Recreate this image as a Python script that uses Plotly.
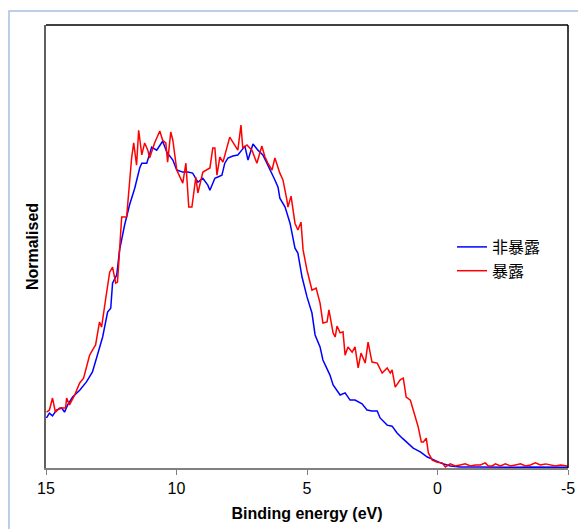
import plotly.graph_objects as go

# Binding energy (eV) and normalised intensity
blue_energy = [14.98, 14.87, 14.75, 14.60, 14.40, 14.29, 14.17, 13.98, 13.71, 13.45, 13.22, 13.02,
               12.83, 12.64, 12.52, 12.45, 12.29, 12.18, 11.99, 11.80, 11.60, 11.41, 11.33, 11.14,
               10.95, 10.76, 10.53, 10.37, 10.14, 9.99, 9.76, 9.57, 9.38, 9.18, 8.99, 8.80, 8.72,
               8.53, 8.26, 8.15, 8.03, 7.84, 7.65, 7.50, 7.38, 7.26, 7.07, 6.88, 6.69, 6.50, 6.34,
               6.23, 6.11, 6.04, 5.84, 5.65, 5.46, 5.35, 5.19, 5.00, 4.81, 4.69, 4.50, 4.39, 4.12,
               4.00, 3.73, 3.54, 3.35, 3.16, 2.89, 2.70, 2.51, 2.31, 2.20, 1.93, 1.74, 1.55, 1.35,
               1.16, 0.93, 0.66, 0.39, 0.20, -0.11, -0.49, -0.87, -1.5, -2.0, -2.5, -3.0, -3.5,
               -4.0, -4.5, -5.0]
blue_values = [14.6, 16.0, 15.2, 16.9, 17.5, 16.3, 18.4, 20.7, 22.7, 25.1, 28.0, 33.5,
               38.2, 45.5, 46.6, 53.9, 56.3, 63.6, 70.8, 76.7, 81.6, 87.5, 88.9, 88.9,
               93.6, 92.7, 95.3, 92.1, 89.8, 86.9, 86.3, 86.3, 86.0, 83.4, 84.5, 82.5, 81.0,
               84.5, 85.4, 88.9, 90.4, 91.0, 91.3, 92.7, 93.9, 89.8, 94.5, 92.7, 91.3, 88.3, 86.0,
               84.0, 81.9, 78.7, 76.1, 71.4, 64.1, 62.7, 55.7, 49.9, 45.2, 38.8, 35.3, 31.5, 27.1,
               24.2, 21.3, 21.9, 19.8, 19.8, 18.7, 16.9, 16.6, 16.6, 14.6, 12.5, 12.2, 10.2, 8.7,
               7.3, 5.8, 4.7, 3.2, 2.6, 1.5, 0.6, 0.3, 0.3, 0.2, 0.3, 0.2, 0.3,
               0.2, 0.3, 0.2]

red_energy = [14.98, 14.87, 14.75, 14.64, 14.48, 14.25, 14.21, 14.10, 13.90, 13.71, 13.56, 13.33,
              13.22, 13.10, 12.95, 12.87, 12.72, 12.56, 12.45, 12.33, 12.26, 12.18, 12.10, 11.91,
              11.72, 11.64, 11.53, 11.45, 11.33, 11.22, 11.10, 11.03, 10.84, 10.64, 10.53, 10.41,
              10.34, 10.22, 10.14, 9.99, 9.76, 9.64, 9.53, 9.41, 9.26, 9.18, 8.99, 8.72, 8.61,
              8.53, 8.45, 8.34, 8.22, 7.96, 7.84, 7.65, 7.53, 7.46, 7.30, 7.11, 6.92, 6.73, 6.61,
              6.50, 6.34, 6.23, 6.04, 5.92, 5.77, 5.73, 5.61, 5.46, 5.35, 5.23, 5.15, 5.00, 4.81,
              4.65, 4.50, 4.39, 4.23, 4.16, 4.00, 3.92, 3.85, 3.73, 3.62, 3.54, 3.43, 3.27, 3.16,
              3.04, 2.93, 2.77, 2.66, 2.51, 2.31, 2.12, 1.93, 1.81, 1.74, 1.62, 1.43, 1.31, 1.20,
              1.04, 0.93, 0.74, 0.62, 0.54, 0.43, 0.35, 0.20, 0.01, -0.18, -0.30, -0.49, -0.68,
              -0.87, -1.06, -1.26, -1.45, -1.64, -1.83, -1.95, -2.10, -2.22, -2.41, -2.60, -2.79,
              -2.99, -3.18, -3.37, -3.56, -3.75, -3.94, -4.14, -4.33, -4.52, -4.71, -4.98]
red_values = [16.3, 16.9, 20.4, 16.3, 17.5, 17.5, 20.4, 18.4, 21.3, 24.8, 26.2, 32.9,
              34.4, 35.9, 42.6, 41.1, 49.0, 57.1, 58.6, 53.9, 54.2, 63.6, 73.2, 73.2,
              90.4, 94.8, 88.3, 98.5, 91.3, 94.8, 92.7, 90.4, 94.8, 98.3, 95.6, 94.8,
              89.2, 98.0, 95.6, 86.9, 83.1, 88.9, 76.1, 76.1, 84.8, 80.2, 86.3, 87.5, 93.3,
              93.3, 85.4, 90.7, 89.2, 96.5, 95.0, 92.7, 100.0, 93.3, 94.2, 92.7, 88.9, 93.9, 90.7,
              88.9, 86.9, 90.4, 86.0, 84.0, 78.1, 76.1, 79.3, 71.4, 69.4, 71.7, 63.6, 57.7, 51.9,
              52.5, 48.1, 42.3, 42.6, 46.1, 39.4, 38.2, 41.4, 39.4, 39.7, 32.9, 35.3, 33.8, 35.3,
              29.2, 33.5, 30.6, 36.7, 30.9, 30.6, 27.7, 29.2, 27.7, 28.6, 23.6, 25.7, 26.2, 20.7,
              19.8, 16.9, 12.0, 7.6, 7.6, 8.7, 4.4, 2.3, 1.7, 1.5, 0.3, 1.2, 0.6,
              0.9, 1.2, 0.6, 0.9, 0.9, 1.5, 0.6, 0.6, 1.2, 0.6, 1.2, 0.6,
              0.9, 1.2, 0.6, 0.9, 1.5, 0.9, 1.2, 0.9, 0.6, 0.9, 0.6]

x_ticks = [15, 10, 5, 0, -5]
series_names = ["非暴露", "暴露"]

fig = go.Figure()
fig.add_trace(go.Scatter(x=blue_energy, y=blue_values, mode="lines", name=series_names[0],
                         line=dict(color="#0000ff", width=1.5)))
fig.add_trace(go.Scatter(x=red_energy, y=red_values, mode="lines", name=series_names[1],
                         line=dict(color="#ff0000", width=1.5)))

W, H = 578, 529
ml, mr, mt, mb = 46, 10, 25, 61
pw, ph = W - ml - mr, H - mt - mb

def px_x(p):
    return (p - ml) / pw

def px_y(p):
    return (H - mb - p) / ph

fig.update_layout(
    width=W, height=H,
    margin=dict(l=ml, r=mr, t=mt, b=mb, autoexpand=False),
    paper_bgcolor="white", plot_bgcolor="white",
    font=dict(family="Liberation Sans, Arial, sans-serif", color="black"),
    xaxis=dict(range=[15, -5], tickvals=x_ticks, ticktext=[str(v) for v in x_ticks],
               showgrid=False, zeroline=False, showline=True, linecolor="#808080", linewidth=1.5,
               ticks="outside", ticklen=5, tickcolor="#808080", tickwidth=1,
               tickfont=dict(size=16), automargin=False,
               title=dict(text="<b>Binding energy (eV)</b>", font=dict(size=16), standoff=12)),
    yaxis=dict(range=[0, 129.2], showticklabels=False, showgrid=False, zeroline=False,
               showline=True, linecolor="#606060", linewidth=1.5, ticks="", automargin=False,
               title=dict(text="<b>Normalised</b>", font=dict(size=16), standoff=2)),
    legend=dict(x=px_x(452), y=px_y(259), xanchor="left", yanchor="middle",
                font=dict(size=16, family="Noto Sans CJK SC"), bgcolor="rgba(0,0,0,0)",
                itemwidth=30, tracegroupgap=0),
    showlegend=True,
    shapes=[
        dict(type="line", xref="paper", yref="paper", x0=0, x1=1, y0=1, y1=1,
             line=dict(color="black", width=1.5)),
        dict(type="line", xref="paper", yref="paper", x0=1, x1=1, y0=0, y1=1,
             line=dict(color="black", width=1.5)),
        dict(type="rect", xref="paper", yref="paper",
             x0=px_x(9), x1=px_x(600), y0=px_y(560), y1=px_y(11),
             line=dict(color="#a7c0de", width=1.5), fillcolor="rgba(0,0,0,0)", layer="below"),
    ],
)

# remove the browser's default page margin so the figure fills the window exactly
fig.write_html("out.html",
               config={"displayModeBar": False},
               post_script="document.body.style.margin='0';document.body.style.overflow='hidden';")
